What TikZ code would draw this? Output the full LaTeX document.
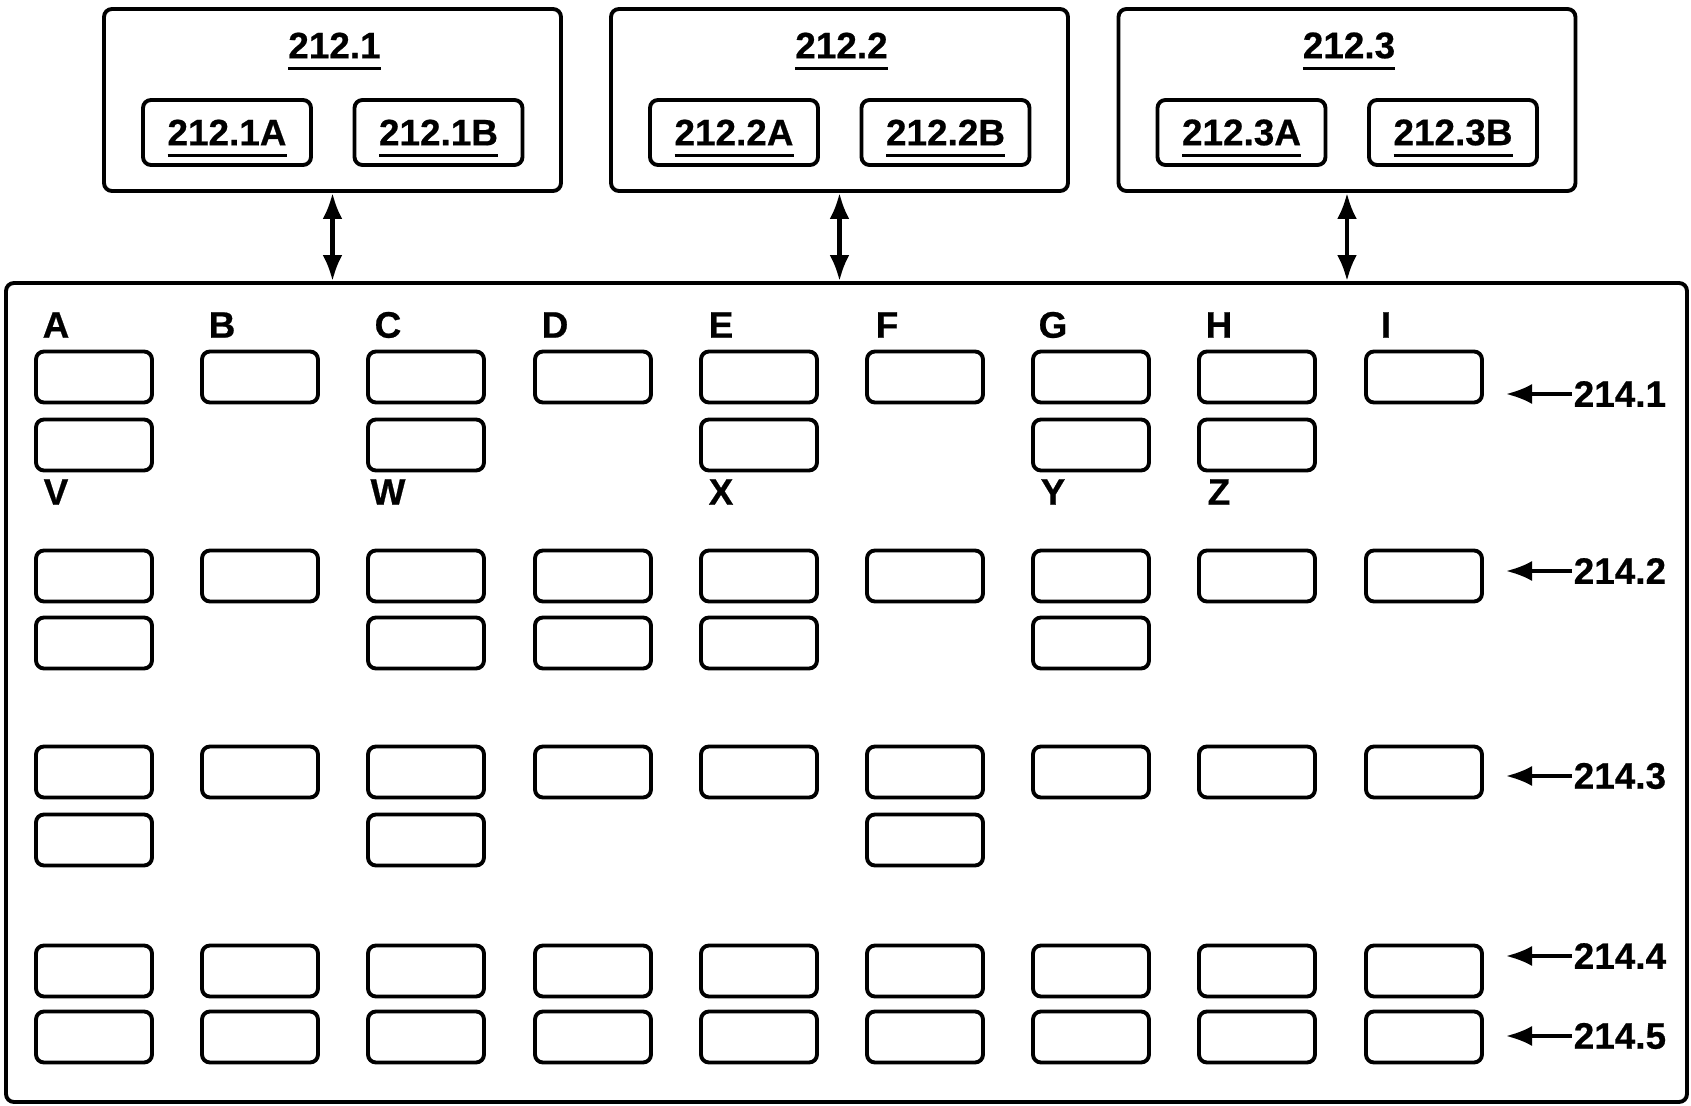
\documentclass[tikz,border=0pt]{standalone}
\usepackage{fontspec}
\setmainfont{Liberation Sans}[BoldFeatures={FakeBold=0.6}]
\usetikzlibrary{arrows.meta}
\newcommand{\refu}[1]{\setbox0=\hbox{#1}\rlap{\smash{\rule[-3.3pt]{\wd0}{0.8pt}}}\box0}
\begin{document}
\begin{tikzpicture}[
    every node/.style={font=\fontsize{10.5}{12.6}\selectfont\bfseries},
    cell/.style={draw, line width=1.1pt, rounded corners=0.8mm,
      minimum width=1.16cm, minimum height=0.51cm, inner sep=0pt},
    unit/.style={draw, line width=1.1pt, rounded corners=0.8mm,
      minimum width=4.57cm, minimum height=1.82cm, inner sep=0pt},
    sub/.style={draw, line width=1.1pt, rounded corners=0.8mm,
      minimum width=1.68cm, minimum height=0.65cm, inner sep=0pt},
    link/.style={{Latex[length=2.6mm,width=2.0mm]}-{Latex[length=2.6mm,width=2.0mm]}, line width=1.2pt},
    pointer/.style={-{Latex[length=2.6mm,width=2.0mm]}, line width=1pt}]
  \useasboundingbox (0,0) rectangle (16.91,-11.06);
  % top units
  \node[unit] (p1) at (3.325,-1.00) {};
  \node[unit] (p2) at (8.395,-1.00) {};
  \node[unit] (p3) at (13.47,-1.00) {};
  \node (p1t) at (3.345,-0.455) {\refu{212.1}};
  \node (p2t) at (8.415,-0.455) {\refu{212.2}};
  \node (p3t) at (13.49,-0.455) {\refu{212.3}};
  \node[sub] (p1a) at (2.27,-1.325) {\refu{212.1A}};
  \node[sub] (p1b) at (4.385,-1.325) {\refu{212.1B}};
  \node[sub] (p2a) at (7.34,-1.325) {\refu{212.2A}};
  \node[sub] (p2b) at (9.455,-1.325) {\refu{212.2B}};
  \node[sub] (p3a) at (12.415,-1.325) {\refu{212.3A}};
  \node[sub] (p3b) at (14.53,-1.325) {\refu{212.3B}};
  % main array
  \node[draw, line width=1.1pt, rounded corners=0.8mm, inner sep=0pt,
    minimum width=16.81cm, minimum height=8.19cm] (main) at (8.465,-6.925) {};
  \draw[link] (p1.south) -- (p1.south |- main.north);
  \draw[link] (p2.south) -- (p2.south |- main.north);
  \draw[link] (p3.south) -- (p3.south |- main.north);
  % column letters
  \node (lA) at (0.56,-3.25) {A};
  \node (lB) at (2.22,-3.25) {B};
  \node (lC) at (3.88,-3.25) {C};
  \node (lD) at (5.55,-3.25) {D};
  \node (lE) at (7.21,-3.25) {E};
  \node (lF) at (8.87,-3.25) {F};
  \node (lG) at (10.53,-3.25) {G};
  \node (lH) at (12.19,-3.25) {H};
  \node (lI) at (13.86,-3.25) {I};
  \node (lV) at (0.56,-4.92) {V};
  \node (lW) at (3.88,-4.92) {W};
  \node (lX) at (7.21,-4.92) {X};
  \node (lY) at (10.53,-4.92) {Y};
  \node (lZ) at (12.19,-4.92) {Z};
  % 214.1
  \node[cell] (A1) at (0.94,-3.77) {};
  \node[cell] (B1) at (2.60,-3.77) {};
  \node[cell] (C1) at (4.26,-3.77) {};
  \node[cell] (D1) at (5.93,-3.77) {};
  \node[cell] (E1) at (7.59,-3.77) {};
  \node[cell] (F1) at (9.25,-3.77) {};
  \node[cell] (G1) at (10.91,-3.77) {};
  \node[cell] (H1) at (12.57,-3.77) {};
  \node[cell] (I1) at (14.24,-3.77) {};
  \node[cell] (A1b) at (0.94,-4.45) {};
  \node[cell] (C1b) at (4.26,-4.45) {};
  \node[cell] (E1b) at (7.59,-4.45) {};
  \node[cell] (G1b) at (10.91,-4.45) {};
  \node[cell] (H1b) at (12.57,-4.45) {};
  % 214.2
  \node[cell] (A2) at (0.94,-5.76) {};
  \node[cell] (B2) at (2.60,-5.76) {};
  \node[cell] (C2) at (4.26,-5.76) {};
  \node[cell] (D2) at (5.93,-5.76) {};
  \node[cell] (E2) at (7.59,-5.76) {};
  \node[cell] (F2) at (9.25,-5.76) {};
  \node[cell] (G2) at (10.91,-5.76) {};
  \node[cell] (H2) at (12.57,-5.76) {};
  \node[cell] (I2) at (14.24,-5.76) {};
  \node[cell] (A2b) at (0.94,-6.43) {};
  \node[cell] (C2b) at (4.26,-6.43) {};
  \node[cell] (D2b) at (5.93,-6.43) {};
  \node[cell] (E2b) at (7.59,-6.43) {};
  \node[cell] (G2b) at (10.91,-6.43) {};
  % 214.3
  \node[cell] (A3) at (0.94,-7.72) {};
  \node[cell] (B3) at (2.60,-7.72) {};
  \node[cell] (C3) at (4.26,-7.72) {};
  \node[cell] (D3) at (5.93,-7.72) {};
  \node[cell] (E3) at (7.59,-7.72) {};
  \node[cell] (F3) at (9.25,-7.72) {};
  \node[cell] (G3) at (10.91,-7.72) {};
  \node[cell] (H3) at (12.57,-7.72) {};
  \node[cell] (I3) at (14.24,-7.72) {};
  \node[cell] (A3b) at (0.94,-8.40) {};
  \node[cell] (C3b) at (4.26,-8.40) {};
  \node[cell] (F3b) at (9.25,-8.40) {};
  % 214.4
  \node[cell] (A4) at (0.94,-9.71) {};
  \node[cell] (B4) at (2.60,-9.71) {};
  \node[cell] (C4) at (4.26,-9.71) {};
  \node[cell] (D4) at (5.93,-9.71) {};
  \node[cell] (E4) at (7.59,-9.71) {};
  \node[cell] (F4) at (9.25,-9.71) {};
  \node[cell] (G4) at (10.91,-9.71) {};
  \node[cell] (H4) at (12.57,-9.71) {};
  \node[cell] (I4) at (14.24,-9.71) {};
  % 214.5
  \node[cell] (A5) at (0.94,-10.37) {};
  \node[cell] (B5) at (2.60,-10.37) {};
  \node[cell] (C5) at (4.26,-10.37) {};
  \node[cell] (D5) at (5.93,-10.37) {};
  \node[cell] (E5) at (7.59,-10.37) {};
  \node[cell] (F5) at (9.25,-10.37) {};
  \node[cell] (G5) at (10.91,-10.37) {};
  \node[cell] (H5) at (12.57,-10.37) {};
  \node[cell] (I5) at (14.24,-10.37) {};
  % row labels
  \node[anchor=west, inner sep=0.3pt] (r1) at (15.72,-3.94) {214.1};
  \node[anchor=west, inner sep=0.3pt] (r2) at (15.72,-5.71) {214.2};
  \node[anchor=west, inner sep=0.3pt] (r3) at (15.72,-7.76) {214.3};
  \node[anchor=west, inner sep=0.3pt] (r4) at (15.72,-9.56) {214.4};
  \node[anchor=west, inner sep=0.3pt] (r5) at (15.72,-10.36) {214.5};
  \coordinate (t1) at (15.06,-3.94);
  \coordinate (t2) at (15.06,-5.71);
  \coordinate (t3) at (15.06,-7.76);
  \coordinate (t4) at (15.06,-9.56);
  \coordinate (t5) at (15.06,-10.36);
  \begin{scope}[pointer]
    \draw (r1.west) -- (t1);
    \draw (r2.west) -- (t2);
    \draw (r3.west) -- (t3);
    \draw (r4.west) -- (t4);
    \draw (r5.west) -- (t5);
  \end{scope}
\end{tikzpicture}
\end{document}
